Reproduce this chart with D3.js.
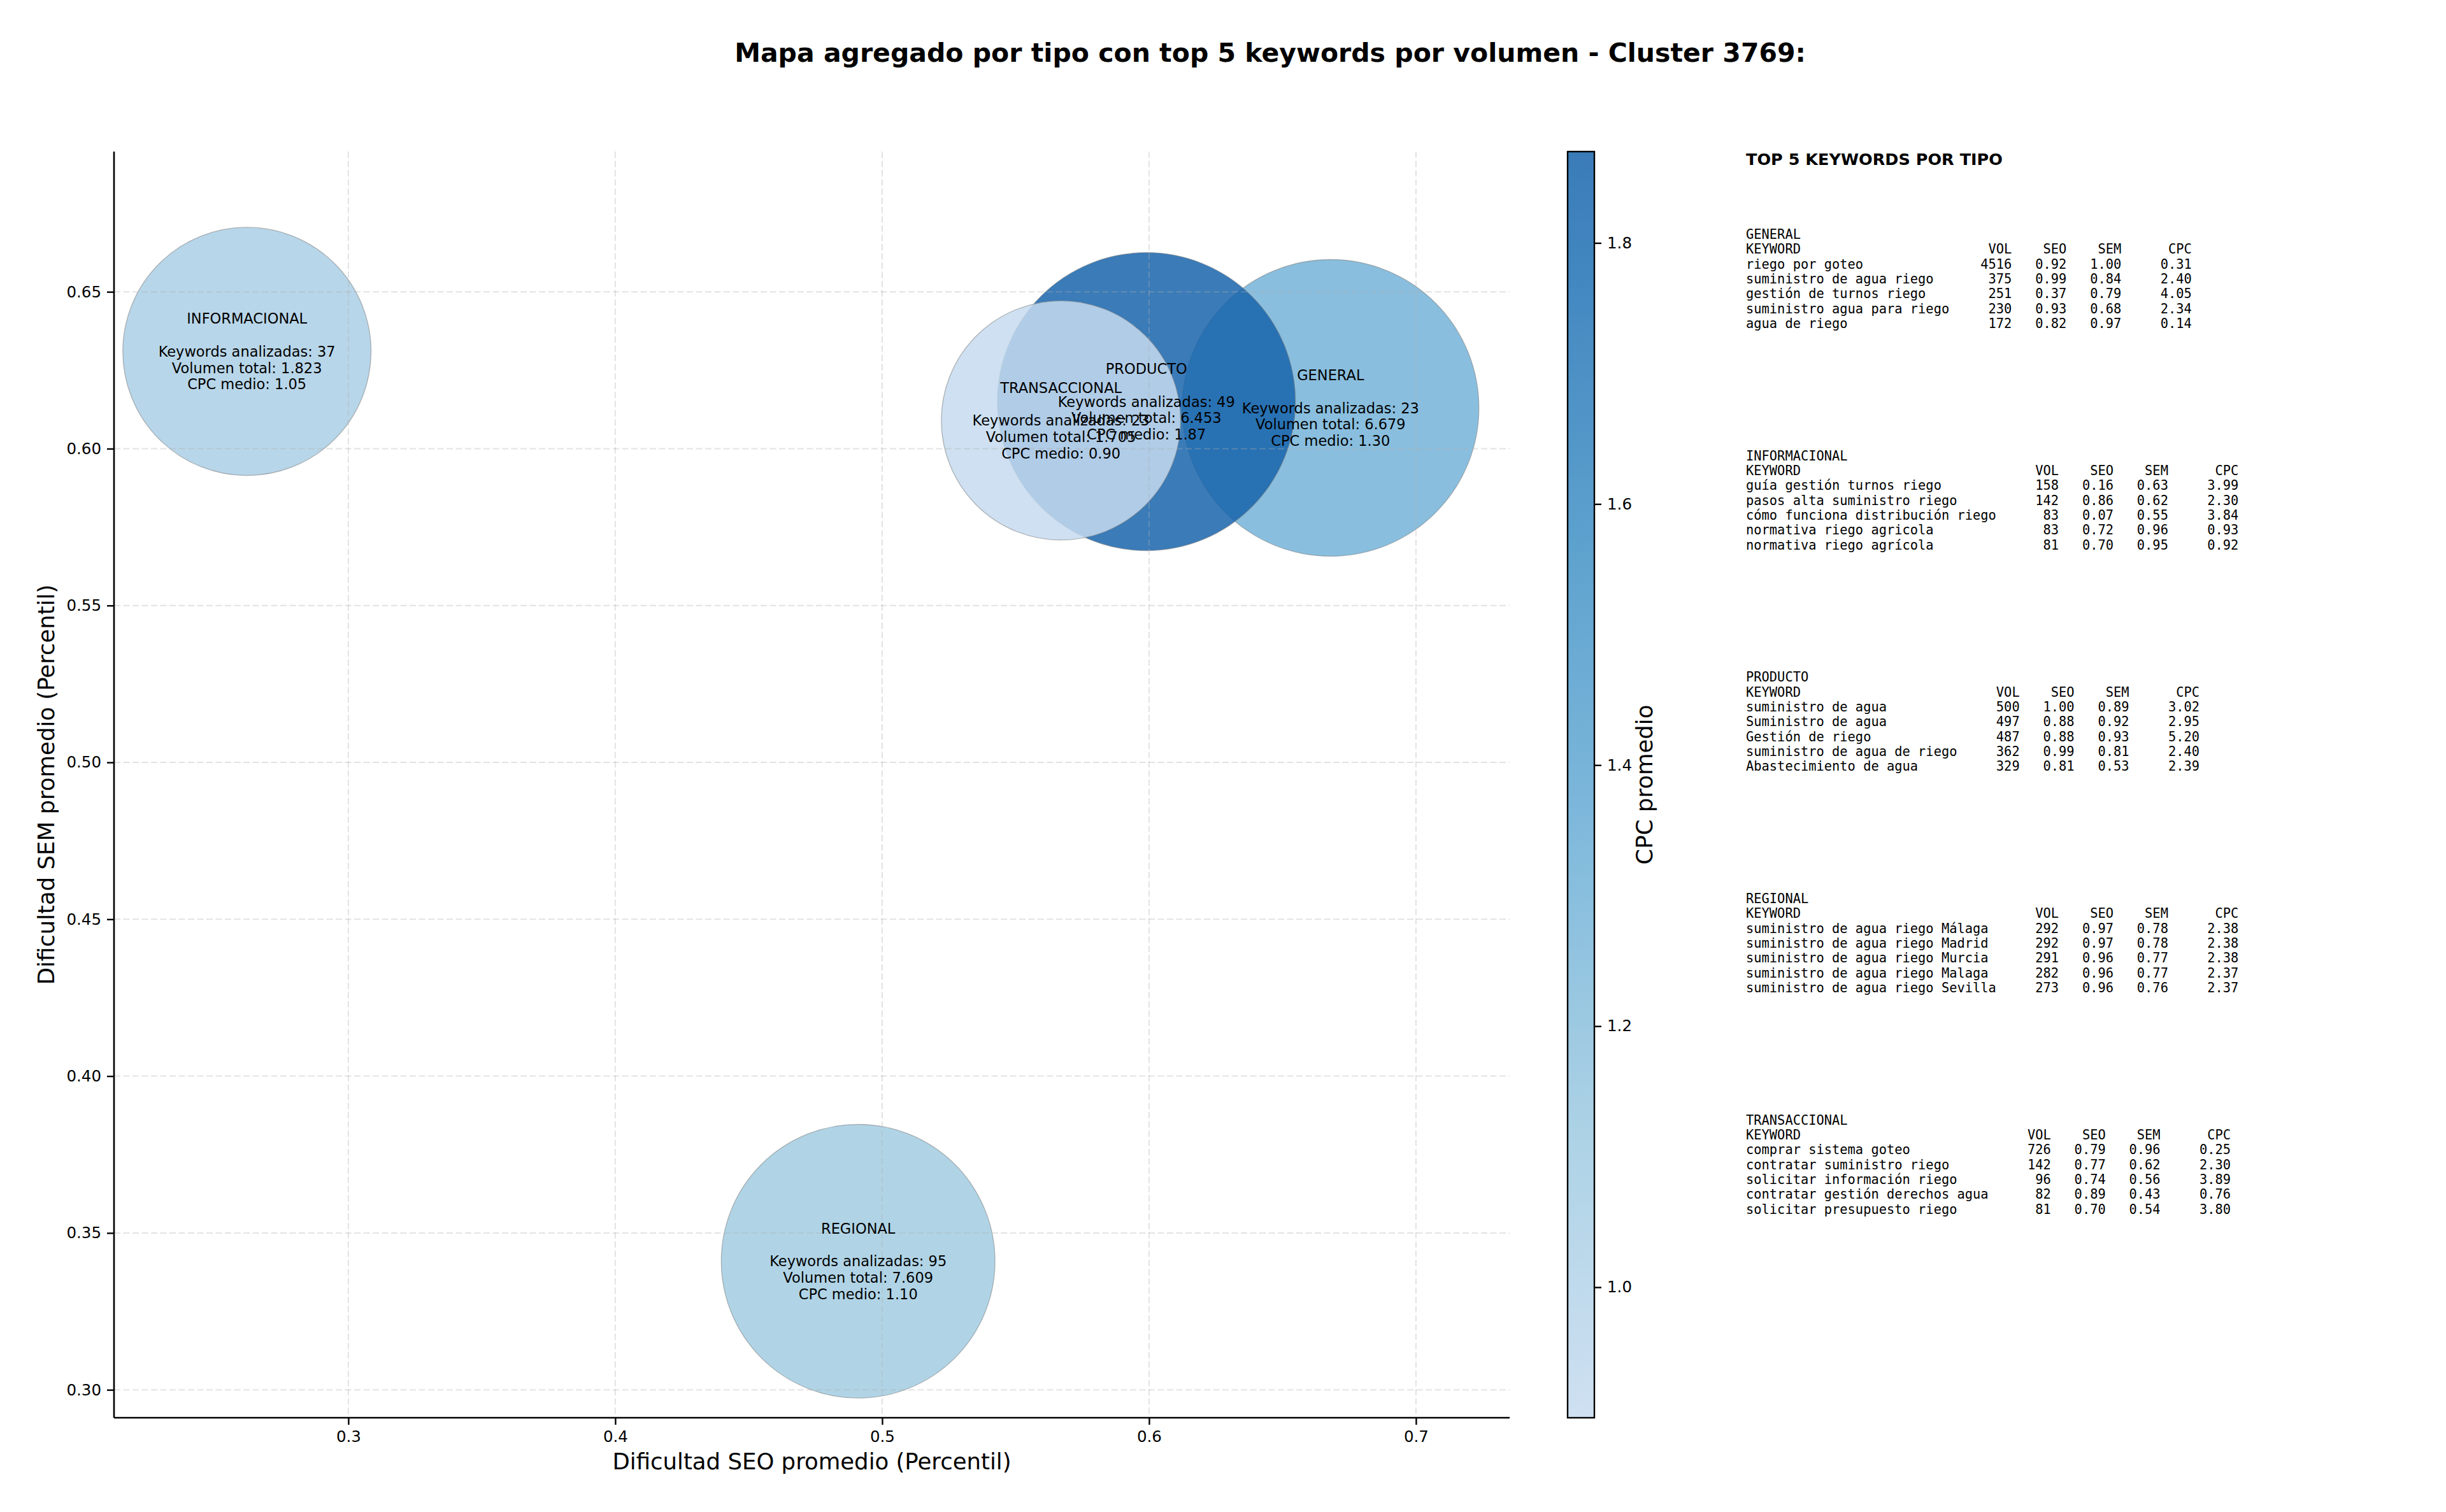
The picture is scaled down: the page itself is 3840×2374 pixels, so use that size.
<!DOCTYPE html>
<html>
<head>
<meta charset="utf-8">
<script src="https://cdn.jsdelivr.net/npm/d3@7"></script>
<style>
  html, body { margin: 0; padding: 0; background: #ffffff; }
  svg { display: block; }
  text { font-family: "DejaVu Sans", sans-serif; fill: #000; }
  .mono { font-family: "DejaVu Sans Mono", monospace; white-space: pre; }
</style>
</head>
<body>
<script>
// ---------------- DATA ----------------
const tipos        = ["GENERAL", "INFORMACIONAL", "PRODUCTO", "REGIONAL", "TRANSACCIONAL"];
const seoPromedio  = [0.668, 0.262, 0.599, 0.491, 0.567];
const semPromedio  = [0.613, 0.631, 0.615, 0.341, 0.609];
const cpcMedio     = [1.30, 1.05, 1.87, 1.10, 0.90];
const numKeywords  = [23, 37, 49, 95, 23];
const volumenTotal = [6679, 1823, 6453, 7609, 1705];
const pesoBurbuja  = [5430, 3800, 5480, 4620, 3530];   // relative marker area

const xTicks  = [0.3, 0.4, 0.5, 0.6, 0.7];
const yTicks  = [0.30, 0.35, 0.40, 0.45, 0.50, 0.55, 0.60, 0.65];
const cbTicks = [1.0, 1.2, 1.4, 1.6, 1.8];

const topGeneral = [
  ["riego por goteo", 4516, 0.92, 1.00, 0.31],
  ["suministro de agua riego", 375, 0.99, 0.84, 2.40],
  ["gestión de turnos riego", 251, 0.37, 0.79, 4.05],
  ["suministro agua para riego", 230, 0.93, 0.68, 2.34],
  ["agua de riego", 172, 0.82, 0.97, 0.14]
];
const topInformacional = [
  ["guía gestión turnos riego", 158, 0.16, 0.63, 3.99],
  ["pasos alta suministro riego", 142, 0.86, 0.62, 2.30],
  ["cómo funciona distribución riego", 83, 0.07, 0.55, 3.84],
  ["normativa riego agricola", 83, 0.72, 0.96, 0.93],
  ["normativa riego agrícola", 81, 0.70, 0.95, 0.92]
];
const topProducto = [
  ["suministro de agua", 500, 1.00, 0.89, 3.02],
  ["Suministro de agua", 497, 0.88, 0.92, 2.95],
  ["Gestión de riego", 487, 0.88, 0.93, 5.20],
  ["suministro de agua de riego", 362, 0.99, 0.81, 2.40],
  ["Abastecimiento de agua", 329, 0.81, 0.53, 2.39]
];
const topRegional = [
  ["suministro de agua riego Málaga", 292, 0.97, 0.78, 2.38],
  ["suministro de agua riego Madrid", 292, 0.97, 0.78, 2.38],
  ["suministro de agua riego Murcia", 291, 0.96, 0.77, 2.38],
  ["suministro de agua riego Malaga", 282, 0.96, 0.77, 2.37],
  ["suministro de agua riego Sevilla", 273, 0.96, 0.76, 2.37]
];
const topTransaccional = [
  ["comprar sistema goteo", 726, 0.79, 0.96, 0.25],
  ["contratar suministro riego", 142, 0.77, 0.62, 2.30],
  ["solicitar información riego", 96, 0.74, 0.56, 3.89],
  ["contratar gestión derechos agua", 82, 0.89, 0.43, 0.76],
  ["solicitar presupuesto riego", 81, 0.70, 0.54, 3.80]
];
const topPorTipo = [topGeneral, topInformacional, topProducto, topRegional, topTransaccional];

// ---------------- LAYOUT / STYLE ----------------
const W = 3840, H = 2374;
const plot = { left: 179, right: 2370, top: 238, bottom: 2226 };
const cb = { left: 2461, right: 2503 };
const bluesStops = ["#f7fbff","#deebf7","#c6dbef","#9ecae1","#6baed6","#4292c6","#2171b5","#08519c","#08306b"];
const blues = d3.scaleLinear().domain(d3.range(9).map(i => i / 8)).range(bluesStops).interpolate(d3.interpolateRgb);
const cpcMin = d3.min(cpcMedio), cpcMax = d3.max(cpcMedio);
const tNorm = d3.scaleLinear().domain([cpcMin, cpcMax]).range([0.25, 0.80]);
const colorOf = v => blues(tNorm(v));
const fillAlpha = 0.85;

const svg = d3.select("body").append("svg").attr("width", W).attr("height", H);
svg.append("rect").attr("width", W).attr("height", H).attr("fill", "#fff");

const x = d3.scaleLinear().domain([0.2122, 0.7351]).range([plot.left, plot.right]);
const y = d3.scaleLinear().domain([0.2911, 0.6947]).range([plot.bottom, plot.top]);
const r = d3.scaleSqrt().domain([0, d3.max(pesoBurbuja)]).range([0, 234]);

// Title
svg.append("text").attr("x", 1994).attr("y", 97).attr("text-anchor", "middle")
  .attr("font-size", 41).attr("font-weight", "bold")
  .text("Mapa agregado por tipo con top 5 keywords por volumen - Cluster 3769:");

// Bubbles
const idx = d3.range(tipos.length);
const g = svg.append("g");
g.selectAll("circle.b").data(idx).join("circle").attr("class", "b")
  .attr("cx", i => x(seoPromedio[i])).attr("cy", i => y(semPromedio[i]))
  .attr("r", i => r(pesoBurbuja[i]))
  .attr("fill", i => colorOf(cpcMedio[i])).attr("fill-opacity", fillAlpha)
  .attr("stroke", "#808080").attr("stroke-opacity", 0.55).attr("stroke-width", 1.3);

// Grid (drawn above bubbles like matplotlib default)
const grid = svg.append("g").attr("stroke", "#b0b0b0").attr("stroke-opacity", 0.35)
  .attr("stroke-width", 2).attr("stroke-dasharray", "10,4.5");
grid.selectAll("line.gx").data(xTicks).join("line").attr("class", "gx")
  .attr("x1", d => x(d)).attr("x2", d => x(d)).attr("y1", plot.top).attr("y2", plot.bottom);
grid.selectAll("line.gy").data(yTicks).join("line").attr("class", "gy")
  .attr("y1", d => y(d)).attr("y2", d => y(d)).attr("x1", plot.left).attr("x2", plot.right);

// Axes
const fmtEs = d3.formatLocale({ decimal: ",", thousands: ".", grouping: [3], currency: ["", "€"] }).format(",");
const xAxis = svg.append("g").attr("transform", `translate(0,${plot.bottom})`)
  .call(d3.axisBottom(x).tickValues(xTicks).tickFormat(d3.format(".1f")).tickSizeOuter(0).tickSize(11).tickPadding(10));
const yAxis = svg.append("g").attr("transform", `translate(${plot.left},0)`)
  .call(d3.axisLeft(y).tickValues(yTicks).tickFormat(d3.format(".2f")).tickSizeOuter(0).tickSize(11).tickPadding(9));
[xAxis, yAxis].forEach(a => {
  a.select(".domain").attr("stroke", "#000").attr("stroke-width", 2.6);
  a.selectAll(".tick line").attr("stroke", "#000").attr("stroke-width", 2.4);
  a.selectAll(".tick text").attr("font-size", 24.5).attr("font-family", "DejaVu Sans").attr("fill", "#000");
});
xAxis.select(".domain").attr("d", `M${plot.left},0H${plot.right}`);
yAxis.select(".domain").attr("d", `M0,${plot.bottom}V${plot.top}`);

svg.append("text").attr("x", (plot.left + plot.right) / 2).attr("y", 2307).attr("text-anchor", "middle")
  .attr("font-size", 35.5).text("Dificultad SEO promedio (Percentil)");
svg.append("text").attr("transform", `translate(85,${(plot.top + plot.bottom) / 2}) rotate(-90)`)
  .attr("text-anchor", "middle").attr("font-size", 35.5).text("Dificultad SEM promedio (Percentil)");

// Bubble labels
const lineH = 25.8;
const lab = svg.append("g").attr("font-size", 22.5).attr("text-anchor", "middle");
idx.forEach(i => {
  const lines = [tipos[i], "", `Keywords analizadas: ${numKeywords[i]}`,
    `Volumen total: ${fmtEs(volumenTotal[i])}`, `CPC medio: ${cpcMedio[i].toFixed(2)}`];
  const cx = x(seoPromedio[i]), cy = y(semPromedio[i]);
  const n = lines.length;
  lines.forEach((t, k) => {
    if (!t) return;
    lab.append("text").attr("x", cx).attr("y", cy + (k - (n - 1) / 2) * lineH).attr("dy", "0.36em").text(t);
  });
});

// Colorbar
const cbY = d3.scaleLinear().domain([cpcMin, cpcMax]).range([plot.bottom, plot.top]);
const defs = svg.append("defs");
const grad = defs.append("linearGradient").attr("id", "cbgrad").attr("x1", 0).attr("y1", 1).attr("x2", 0).attr("y2", 0);
d3.range(41).forEach(k => {
  const f = k / 40;
  grad.append("stop").attr("offset", f).attr("stop-color", colorOf(cpcMin + f * (cpcMax - cpcMin)));
});
svg.append("rect").attr("x", cb.left).attr("y", plot.top).attr("width", cb.right - cb.left)
  .attr("height", plot.bottom - plot.top).attr("fill", "url(#cbgrad)").attr("fill-opacity", fillAlpha);
svg.append("rect").attr("x", cb.left).attr("y", plot.top).attr("width", cb.right - cb.left)
  .attr("height", plot.bottom - plot.top).attr("fill", "none").attr("stroke", "#000").attr("stroke-width", 2.4);
const cbAxis = svg.append("g").attr("transform", `translate(${cb.right},0)`)
  .call(d3.axisRight(cbY).tickValues(cbTicks).tickFormat(d3.format(".1f")).tickSize(11).tickPadding(9).tickSizeOuter(0));
cbAxis.select(".domain").remove();
cbAxis.selectAll(".tick line").attr("stroke", "#000").attr("stroke-width", 2.4);
cbAxis.selectAll(".tick text").attr("font-size", 24.5).attr("font-family", "DejaVu Sans").attr("fill", "#000");
svg.append("text").attr("transform", `translate(2594,${(plot.top + plot.bottom) / 2}) rotate(-90)`)
  .attr("text-anchor", "middle").attr("font-size", 35.5).text("CPC promedio");

// Right panel tables
const panelX = 2741;
svg.append("text").attr("x", panelX).attr("y", 259).attr("font-size", 25.5).attr("font-weight", "bold")
  .text("TOP 5 KEYWORDS POR TIPO");
const monoSize = 20.4, monoLH = 23.33, blockStep = 347.7, blockBase = 375;
topPorTipo.forEach((rows, i) => {
  const w = d3.max(rows, d => d[0].length) + 2;
  const lines = [tipos[i],
    "KEYWORD".padEnd(w) + "VOL".padStart(6) + "SEO".padStart(7) + "SEM".padStart(7) + "CPC".padStart(9)];
  rows.forEach(d => lines.push(d[0].padEnd(w) + String(d[1]).padStart(6) + d[2].toFixed(2).padStart(7)
    + d[3].toFixed(2).padStart(7) + d[4].toFixed(2).padStart(9)));
  lines.forEach((t, k) => {
    svg.append("text").attr("class", "mono").attr("x", panelX).attr("y", blockBase + i * blockStep + k * monoLH)
      .attr("font-size", monoSize).text(t);
  });
});
</script>
</body>
</html>
